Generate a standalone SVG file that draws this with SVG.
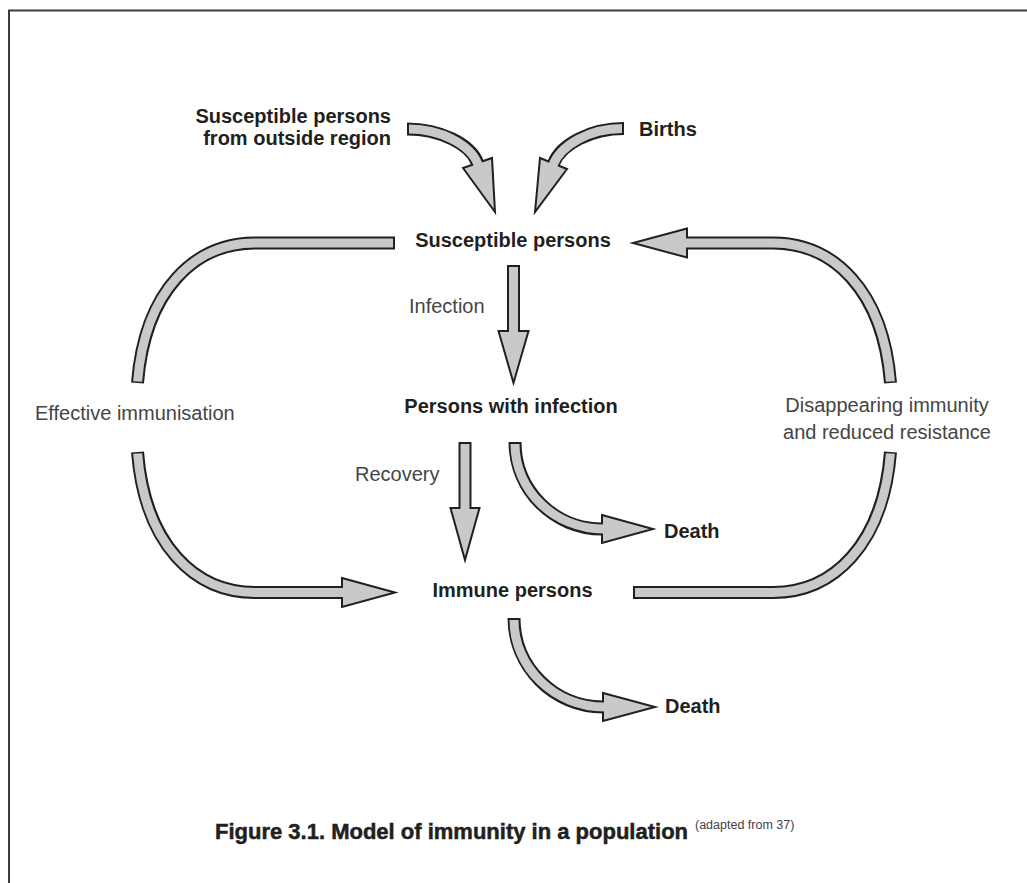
<svg xmlns="http://www.w3.org/2000/svg" width="1027" height="883" viewBox="0 0 1027 883">
<style>
.bg{fill:#ffffff}
.frame{fill:none;stroke:#3a3a3a;stroke-width:2}
.so{fill:none;stroke:#231f20;stroke-width:13;stroke-linecap:butt}
.si{fill:none;stroke:#c8c9cb;stroke-width:9;stroke-linecap:butt}
.hd{fill:#c8c9cb;stroke:#231f20;stroke-width:2;stroke-linejoin:miter}
.b{font-family:"Liberation Sans",Arial,sans-serif;font-weight:bold;font-size:20px;fill:#231f20}
.l{font-family:"Liberation Sans",Arial,sans-serif;font-size:20px;fill:#454545}
.cap{font-family:"Liberation Sans",Arial,sans-serif;font-weight:bold;font-size:22px;fill:#231f20;stroke:#231f20;stroke-width:0.5}
.sup{font-family:"Liberation Sans",Arial,sans-serif;font-size:12.5px;fill:#444444}
</style>
<rect class="bg" x="0" y="0" width="1027" height="883"/>
<path class="frame" d="M9,883 V10.5 H1027"/>

<g id="connectors">
  <g id="c-outside">
    <path class="so" d="M407,129 C440,129 470.8,144.2 477.5,163"/>
    <path class="hd" d="M463,168 L495,212 L492,158 Z"/>
    <path class="si" d="M409,129 C440,129 470.8,144.2 478.2,165"/>
  </g>
  <g id="c-births">
    <path class="so" d="M624,128.5 C590,128.5 560.6,144.8 553.5,163.5"/>
    <path class="hd" d="M540,158 L535,212 L567,169 Z"/>
    <path class="si" d="M622,128.5 C590,128.5 560.6,144.8 552.8,165.5"/>
  </g>
  <g id="c-infection">
    <path class="so" d="M513.5,265 V331"/>
    <path class="hd" d="M498.5,331 L513.5,383 L528.5,331 Z"/>
    <path class="si" d="M513.5,267 V333"/>
  </g>
  <g id="c-recovery">
    <path class="so" d="M465,442 V508"/>
    <path class="hd" d="M450.5,508 L465,560 L479.5,508 Z"/>
    <path class="si" d="M465,444 V510"/>
  </g>
  <g id="c-death1">
    <path class="so" d="M515,442 C515,490 554,529 602,529"/>
    <path class="hd" d="M602,515 L653,529 L602,543 Z"/>
    <path class="si" d="M515,444 C515,490 554,529 604,529"/>
  </g>
  <g id="c-death2">
    <path class="so" d="M514,618 C514,667 554,707 603,707"/>
    <path class="hd" d="M603,693 L655,707 L603,721 Z"/>
    <path class="si" d="M514,620 C514,667 554,707 605,707"/>
  </g>
  <g id="c-immun-top">
    <path class="so" d="M395,243 H255 C195,243 145,290 137.5,383"/>
    <path class="si" d="M393,243 H255 C195,243 145,290 137.62,381.5"/>
  </g>
  <g id="c-immun-bottom">
    <path class="so" d="M137.5,452 C145,545 195,592.5 255,592.5 H342"/>
    <path class="hd" d="M342,578 L395,592.5 L342,607 Z"/>
    <path class="si" d="M137.62,453.5 C145,545 195,592.5 255,592.5 H344"/>
  </g>
  <g id="c-disap-top">
    <path class="so" d="M890.5,383 C883,290 833,243 773,243 H687"/>
    <path class="hd" d="M687,228.5 L633,243 L687,257.5 Z"/>
    <path class="si" d="M890.38,381.5 C883,290 833,243 773,243 H685"/>
  </g>
  <g id="c-disap-bottom">
    <path class="so" d="M633,592.5 H773 C833,592.5 883,545 890.5,452"/>
    <path class="si" d="M635,592.5 H773 C833,592.5 883,545 890.38,453.5"/>
  </g>
</g>

<g id="n-outside"><text class="b" x="391" y="123" text-anchor="end">Susceptible persons</text><text class="b" x="391" y="145" text-anchor="end">from outside region</text></g>
<g id="n-births"><text class="b" x="639" y="136">Births</text></g>
<g id="n-susceptible"><text class="b" x="513" y="247" text-anchor="middle">Susceptible persons</text></g>
<g id="n-infected"><text class="b" x="511" y="413" text-anchor="middle">Persons with infection</text></g>
<g id="n-immune"><text class="b" x="512.5" y="597" text-anchor="middle">Immune persons</text></g>
<g id="n-death1"><text class="b" x="664" y="538">Death</text></g>
<g id="n-death2"><text class="b" x="665" y="713">Death</text></g>
<g id="l-infection"><text class="l" x="409" y="313">Infection</text></g>
<g id="l-recovery"><text class="l" x="355" y="481">Recovery</text></g>
<g id="l-effective"><text class="l" x="35" y="420">Effective immunisation</text></g>
<g id="l-disappearing"><text class="l" x="887" y="412" text-anchor="middle">Disappearing immunity</text><text class="l" x="887" y="439" text-anchor="middle">and reduced resistance</text></g>
<g id="caption"><text class="cap" x="215" y="839">Figure 3.1. Model of immunity in a population</text><text class="sup" x="695" y="829">(adapted from 37)</text></g>
</svg>
